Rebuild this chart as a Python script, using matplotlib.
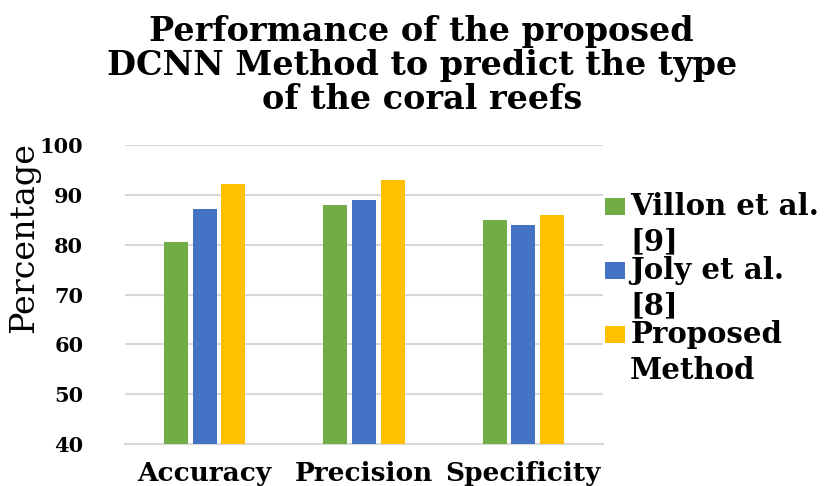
import numpy as np
import matplotlib.pyplot as plt
from matplotlib.patches import Rectangle
from matplotlib.container import BarContainer
from matplotlib.legend_handler import HandlerPatch, update_from_first_child

# Scores (%) of each method on the three metrics
metrics = ["Accuracy", "Precision", "Specificity"]
villon = [80.5, 88.0, 85.0]
joly = [87.2, 89.0, 84.0]
proposed = [92.1, 92.9, 86.0]
series_names = ["Villon et al.\n[9]", "Joly et al.\n[8]", "Proposed\nMethod"]
colors = ["#70AD47", "#4472C4", "#FFC000"]

plt.rcParams["font.family"] = ["DejaVu Serif"]

fig = plt.figure(figsize=(8.3, 4.86), dpi=100)
ax = fig.add_axes([0.1506, 0.0864, 0.5759, 0.6152])

x = np.arange(len(metrics))
width = 0.15
step = 0.18
for k, (vals, name, col) in enumerate(zip([villon, joly, proposed], series_names, colors)):
    ax.bar(x + (k - 1) * step, vals, width, color=col, label=name, zorder=3)

ax.set_xlim(-0.5, 2.5)
ax.set_ylim(40, 100)
ax.set_yticks(range(40, 101, 10))
ax.grid(axis="y", color="#D9D9D9", linewidth=1.5, zorder=0)
for s in ["top", "right", "left"]:
    ax.spines[s].set_visible(False)
ax.spines["bottom"].set_color("#D9D9D9")
ax.spines["bottom"].set_linewidth(1.5)
ax.tick_params(length=0)
ax.tick_params(axis="y", pad=30)
ax.tick_params(axis="x", pad=12)
ax.set_xticks(x)
ax.set_xticklabels(metrics, fontsize=19, fontweight="bold")
for lbl in ax.get_yticklabels():
    lbl.set_fontsize(15)
    lbl.set_fontweight("bold")

fig.text(0.508, 0.865, "Performance of the proposed\nDCNN Method to predict the type\nof the coral reefs",
         ha="center", va="center", fontsize=24, fontweight="bold", linespacing=1.05)
fig.text(0.029, 0.512, "Percentage", rotation=90, ha="center", va="center", fontsize=24)


# legend swatch sits beside the first line of a two-line label
def top_line_patch(legend, orig_handle, xdescent, ydescent, width, height, fontsize):
    shift = fontsize * 0.64
    return Rectangle((-xdescent, -ydescent + shift), width, height)


ax.legend(loc="upper left", bbox_to_anchor=(0.729, 0.605), bbox_transform=fig.transFigure,
          frameon=False, prop={"size": 21, "weight": "bold"}, handlelength=0.69,
          handleheight=0.52, handletextpad=0.17, labelspacing=0.0, borderpad=0,
          borderaxespad=0,
          handler_map={BarContainer: HandlerPatch(patch_func=top_line_patch,
                                                  update_func=update_from_first_child)})
for t in ax.get_legend().get_texts():
    t.set_linespacing(1.27)

fig.savefig("out.png", dpi=100)
